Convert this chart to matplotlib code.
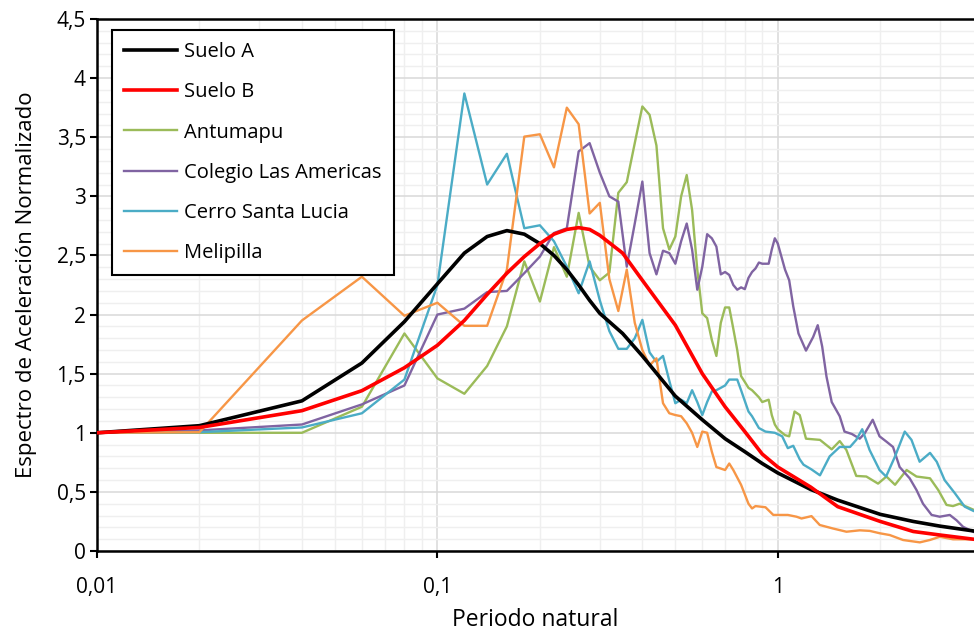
import matplotlib.pyplot as plt
from matplotlib.ticker import FixedLocator, NullFormatter

plt.rcParams['font.family'] = ['Open Sans', 'DejaVu Sans']

# Suelo A / Suelo B (smooth design spectra)
t_suelo = [0.01, 0.02, 0.04, 0.06, 0.08, 0.10, 0.12, 0.14, 0.16, 0.18, 0.20, 0.22,
           0.24, 0.26, 0.28, 0.30, 0.35, 0.40, 0.50, 0.60, 0.70, 0.80, 0.90, 1.0,
           1.25, 1.5, 2.0, 2.5, 3.0, 3.75]
suelo_a = [1.0, 1.06, 1.27, 1.59, 1.94, 2.26, 2.52, 2.66, 2.71, 2.68, 2.60, 2.50,
           2.38, 2.25, 2.12, 2.01, 1.84, 1.65, 1.31, 1.11, 0.95, 0.84, 0.74, 0.66,
           0.52, 0.43, 0.31, 0.25, 0.21, 0.17]
suelo_b = [1.0, 1.045, 1.187, 1.356, 1.55, 1.74, 1.95, 2.17, 2.35, 2.49, 2.60, 2.68,
           2.72, 2.735, 2.72, 2.67, 2.52, 2.29, 1.91, 1.50, 1.22, 1.01, 0.82, 0.71,
           0.54, 0.375, 0.25, 0.165, 0.135, 0.10]

# Antumapu
t_antu = [0.01, 0.02, 0.04, 0.06, 0.08, 0.10, 0.12, 0.14, 0.16, 0.18, 0.20, 0.22,
          0.24, 0.26, 0.28, 0.30, 0.32, 0.34, 0.36, 0.38, 0.40, 0.42, 0.44, 0.46,
          0.48, 0.50, 0.52, 0.54, 0.56, 0.58, 0.60, 0.62, 0.64, 0.66, 0.68, 0.70,
          0.72, 0.74, 0.76, 0.78, 0.80, 0.82, 0.84, 0.86, 0.88, 0.90, 0.92, 0.94,
          0.96, 0.98, 1.00, 1.05, 1.08, 1.12, 1.16, 1.21, 1.33, 1.44, 1.52, 1.59,
          1.70, 1.82, 1.97, 2.085, 2.21, 2.39, 2.555, 2.80, 2.96, 3.13, 3.27, 3.42,
          3.75]
antu = [1.0, 1.0, 1.0, 1.22, 1.84, 1.46, 1.33, 1.565, 1.90, 2.45, 2.11, 2.57,
        2.32, 2.86, 2.405, 2.29, 2.355, 3.03, 3.12, 3.45, 3.76, 3.69, 3.43, 2.73,
        2.55, 2.66, 3.00, 3.18, 2.885, 2.38, 2.01, 1.97, 1.785, 1.65, 1.93, 2.06,
        2.06, 1.88, 1.70, 1.48, 1.43, 1.38, 1.36, 1.33, 1.30, 1.26, 1.27, 1.28,
        1.15, 1.07, 1.03, 0.98, 0.97, 1.18, 1.15, 0.95, 0.94, 0.86, 0.93, 0.855,
        0.635, 0.63, 0.57, 0.63, 0.56, 0.685, 0.63, 0.615, 0.516, 0.39, 0.38, 0.40,
        0.35]

# Colegio Las Americas
t_cole = [0.01, 0.02, 0.04, 0.06, 0.08, 0.10, 0.12, 0.14, 0.16, 0.18, 0.20, 0.22,
          0.24, 0.26, 0.28, 0.30, 0.32, 0.34, 0.36, 0.38, 0.40, 0.42, 0.44, 0.46,
          0.48, 0.50, 0.52, 0.54, 0.56, 0.58, 0.60, 0.62, 0.64, 0.66, 0.68, 0.70,
          0.72, 0.74, 0.76, 0.78, 0.80, 0.82, 0.84, 0.86, 0.88, 0.90, 0.94, 0.96,
          0.98, 1.00, 1.05, 1.08, 1.11, 1.15, 1.21, 1.27, 1.31, 1.35, 1.39, 1.44,
          1.52, 1.57, 1.65, 1.74, 1.80, 1.90, 1.99, 2.085, 2.18, 2.28, 2.44, 2.555,
          2.67, 2.83, 2.99, 3.2, 3.35, 3.5, 3.75]
cole = [1.0, 1.02, 1.07, 1.24, 1.40, 2.00, 2.05, 2.19, 2.20, 2.35, 2.49, 2.69,
        2.73, 3.38, 3.45, 3.20, 3.00, 2.955, 2.405, 2.77, 3.125, 2.52, 2.34, 2.54,
        2.52, 2.43, 2.62, 2.77, 2.55, 2.21, 2.405, 2.68, 2.645, 2.575, 2.34, 2.36,
        2.335, 2.25, 2.21, 2.23, 2.215, 2.31, 2.36, 2.39, 2.44, 2.43, 2.43, 2.55,
        2.645, 2.60, 2.38, 2.29, 2.07, 1.84, 1.695, 1.81, 1.91, 1.73, 1.475, 1.26,
        1.14, 1.01, 0.99, 0.95, 0.995, 1.11, 0.97, 0.925, 0.88, 0.71, 0.615, 0.516,
        0.40, 0.305, 0.29, 0.305, 0.26, 0.205, 0.163]

# Cerro Santa Lucia
t_cerro = [0.01, 0.02, 0.04, 0.06, 0.08, 0.10, 0.12, 0.14, 0.16, 0.18, 0.20, 0.22,
           0.24, 0.26, 0.28, 0.30, 0.32, 0.34, 0.36, 0.38, 0.40, 0.42, 0.44, 0.46,
           0.48, 0.50, 0.52, 0.54, 0.56, 0.58, 0.60, 0.62, 0.64, 0.66, 0.70, 0.72,
           0.76, 0.78, 0.82, 0.84, 0.88, 0.92, 0.98, 1.03, 1.07, 1.11, 1.16, 1.19,
           1.256, 1.33, 1.42, 1.52, 1.63, 1.70, 1.77, 1.86, 1.99, 2.08, 2.21, 2.36,
           2.47, 2.61, 2.80, 2.93, 3.09, 3.31, 3.54, 3.75]
cerro = [1.0, 1.005, 1.045, 1.165, 1.45, 2.25, 3.87, 3.10, 3.36, 2.73, 2.755, 2.62,
         2.405, 2.18, 2.45, 2.12, 1.86, 1.71, 1.71, 1.80, 1.955, 1.68, 1.60, 1.65,
         1.44, 1.25, 1.28, 1.25, 1.36, 1.26, 1.15, 1.26, 1.35, 1.36, 1.40, 1.45,
         1.45, 1.36, 1.18, 1.14, 1.04, 1.01, 1.00, 0.97, 0.87, 0.89, 0.775, 0.73,
         0.69, 0.64, 0.80, 0.88, 0.88, 0.94, 1.03, 0.855, 0.685, 0.63, 0.80, 1.01,
         0.94, 0.755, 0.83, 0.755, 0.60, 0.49, 0.375, 0.34]

# Melipilla
t_meli = [0.01, 0.02, 0.04, 0.06, 0.08, 0.10, 0.12, 0.14, 0.16, 0.18, 0.20, 0.22,
          0.24, 0.26, 0.28, 0.30, 0.32, 0.34, 0.36, 0.38, 0.40, 0.42, 0.44, 0.46,
          0.48, 0.50, 0.52, 0.54, 0.56, 0.58, 0.60, 0.62, 0.64, 0.66, 0.70, 0.72,
          0.74, 0.78, 0.82, 0.84, 0.86, 0.92, 0.97, 1.07, 1.135, 1.174, 1.256, 1.328,
          1.454, 1.591, 1.741, 1.863, 1.993, 2.132, 2.333, 2.613, 2.796, 2.991, 3.273,
          3.75]
meli = [1.0, 1.005, 1.95, 2.32, 1.99, 2.10, 1.905, 1.905, 2.38, 3.505, 3.525, 3.245,
        3.75, 3.61, 2.855, 2.945, 2.30, 2.03, 2.38, 1.93, 1.70, 1.57, 1.63, 1.25,
        1.165, 1.15, 1.14, 1.08, 1.00, 0.88, 1.01, 1.00, 0.84, 0.71, 0.685, 0.74,
        0.685, 0.56, 0.40, 0.36, 0.38, 0.37, 0.305, 0.305, 0.29, 0.275, 0.295, 0.22,
        0.19, 0.163, 0.175, 0.17, 0.15, 0.135, 0.093, 0.073, 0.093, 0.12, 0.099,
        0.099]

fig = plt.figure(figsize=(9.74, 6.34), dpi=100)
ax = fig.add_axes([97 / 974, 83 / 634, 1 - 97 / 974, 532 / 634])

ax.plot(t_suelo, suelo_a, color='black', lw=2.6, label='Suelo A', zorder=5)
ax.plot(t_suelo, suelo_b, color='#FF0000', lw=2.6, label='Suelo B', zorder=5)
ax.plot(t_antu, antu, color='#9BBB59', lw=1.7, label='Antumapu')
ax.plot(t_cole, cole, color='#8064A2', lw=1.7, label='Colegio Las Americas')
ax.plot(t_cerro, cerro, color='#4BACC6', lw=1.7, label='Cerro Santa Lucia')
ax.plot(t_meli, meli, color='#F79646', lw=1.7, label='Melipilla')

ax.set_xscale('log')
ax.set_xlim(0.01, 3.77)
ax.set_ylim(0, 4.5)

ax.xaxis.set_major_locator(FixedLocator([0.01, 0.1, 1]))
ax.set_xticklabels(['0,01', '0,1', '1'])
ax.xaxis.set_minor_locator(FixedLocator(
    [k * 10.0 ** e for e in (-2, -1, 0) for k in range(2, 10)]))
ax.xaxis.set_minor_formatter(NullFormatter())

yt = [0, 0.5, 1, 1.5, 2, 2.5, 3, 3.5, 4, 4.5]
ax.set_yticks(yt)
ax.set_yticklabels(['0', '0,5', '1', '1,5', '2', '2,5', '3', '3,5', '4', '4,5'])
ax.yaxis.set_minor_locator(FixedLocator([i / 10 for i in range(46)]))

ax.grid(which='major', color='#d9d9d9', lw=1.1)
ax.grid(which='minor', color='#efefef', lw=1.0)
ax.set_axisbelow(True)

for s in ('left', 'bottom', 'top'):
    ax.spines[s].set_linewidth(1.8)
    ax.spines[s].set_color('black')
ax.spines['right'].set_visible(False)

ax.tick_params(which='major', direction='out', length=5, width=1.5,
               labelsize=15, colors='black')
ax.tick_params(axis='x', which='major', pad=14)
ax.tick_params(axis='y', which='major', pad=3)
ax.tick_params(which='minor', length=0)

ax.set_xlabel('Periodo natural', fontsize=16.5, labelpad=7)
ax.set_ylabel('Espectro de Aceleración Normalizado', fontsize=16, labelpad=14)

leg = ax.legend(loc='upper left', bbox_to_anchor=(0.017, 0.979), fontsize=14.5,
                frameon=True, fancybox=False, edgecolor='black', framealpha=1,
                handlelength=2.65, labelspacing=1.0, borderpad=0.6,
                borderaxespad=0, handletextpad=0.35)
leg.get_frame().set_linewidth(1.5)

fig.savefig('out.png', dpi=100)
